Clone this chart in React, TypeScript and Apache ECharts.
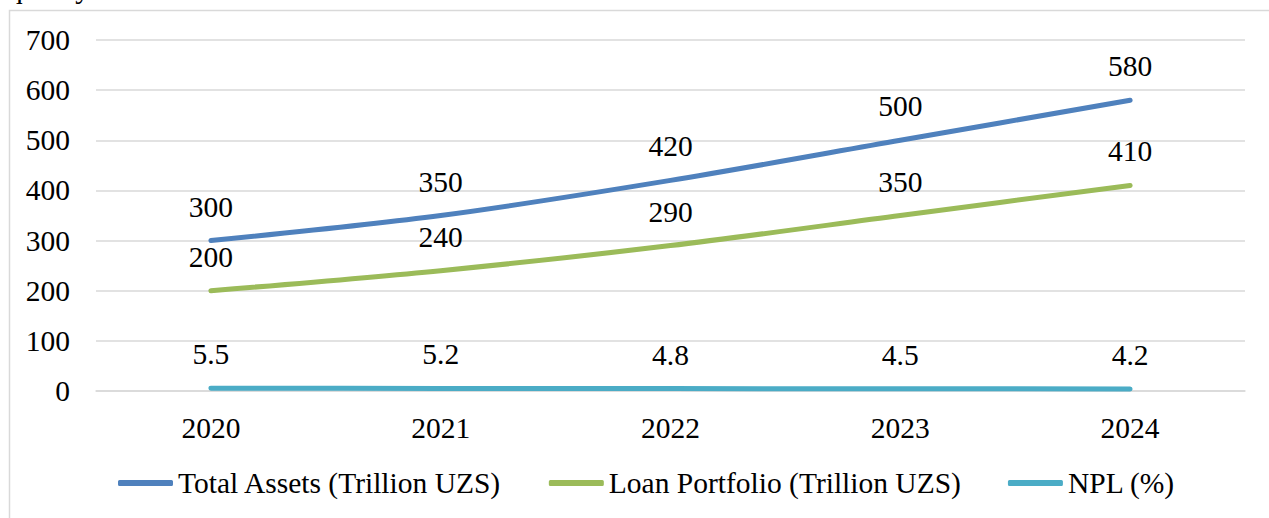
import React, { useEffect, useRef } from "react";
import * as echarts from "echarts";

const years = ["2020", "2021", "2022", "2023", "2024"];
const totalAssets = [300, 350, 420, 500, 580];
const loanPortfolio = [200, 240, 290, 350, 410];
const npl = [5.5, 5.2, 4.8, 4.5, 4.2];
const seriesNames = ["Total Assets (Trillion UZS)", "Loan Portfolio (Trillion UZS)", "NPL (%)"];
const colors = ["#4F81BD", "#9BBB59", "#4BACC6"];

const FONT = "Liberation Serif";
const FS = 29.5;

export default function App() {
  const ref = useRef<HTMLDivElement>(null);
  useEffect(() => {
    if (!ref.current) return;
    const chart = echarts.init(ref.current, undefined, { renderer: "svg" });
    const mk = (name: string, data: number[], color: string) => ({
      name,
      type: "line",
      data,
      smooth: 0.3,
      showSymbol: true,
      symbol: "circle",
      symbolSize: 2,
      lineStyle: { color, width: 5, cap: "round", join: "round" },
      itemStyle: { color },
      label: {
        show: true,
        position: "top",
        distance: 18,
        color: "#000",
        fontFamily: FONT,
        fontSize: FS,
      },
    });
    chart.setOption({
      animation: false,
      backgroundColor: "#fff",
      color: colors,
      textStyle: { fontFamily: FONT },
      grid: { left: 96, right: 24, top: 40, bottom: 127, containLabel: false },
      graphic: [
        {
          type: "text",
          x: 8,
          y: -12.5,
          silent: true,
          style: { text: "quality", fontFamily: FONT, fontSize: FS, fill: "#000", verticalAlign: "middle", align: "left" },
        },
        {
          type: "polyline",
          silent: true,
          shape: { points: [[9.5, 518], [9.5, 10.5], [1269, 10.5]] },
          style: { stroke: "#d9d9d9", lineWidth: 1.5, fill: "none" },
        },
      ],
      legend: {
        bottom: 15,
        left: 113,
        itemGap: 47,
        itemWidth: 55,
        itemHeight: 6,
        icon: "roundRect",
        data: seriesNames,
        textStyle: { color: "#000", fontFamily: FONT, fontSize: FS },
      },
      xAxis: {
        type: "category",
        data: years,
        boundaryGap: true,
        axisLine: { show: true, lineStyle: { color: "#d9d9d9", width: 1.5 } },
        axisTick: { show: false },
        axisLabel: { color: "#000", fontFamily: FONT, fontSize: FS, margin: 22 },
      },
      yAxis: {
        type: "value",
        min: 0,
        max: 700,
        interval: 100,
        axisLine: { show: false },
        axisTick: { show: false },
        splitLine: { lineStyle: { color: "#d9d9d9", width: 1.5 } },
        axisLabel: { color: "#000", fontFamily: FONT, fontSize: FS, margin: 26 },
      },
      series: [
        mk(seriesNames[0], totalAssets, colors[0]),
        mk(seriesNames[1], loanPortfolio, colors[1]),
        mk(seriesNames[2], npl, colors[2]),
      ],
    });
    return () => chart.dispose();
  }, []);
  return (
    <div
      ref={ref}
      style={{ position: "absolute", left: 0, top: 0, width: 1269, height: 518 }}
    />
  );
}
